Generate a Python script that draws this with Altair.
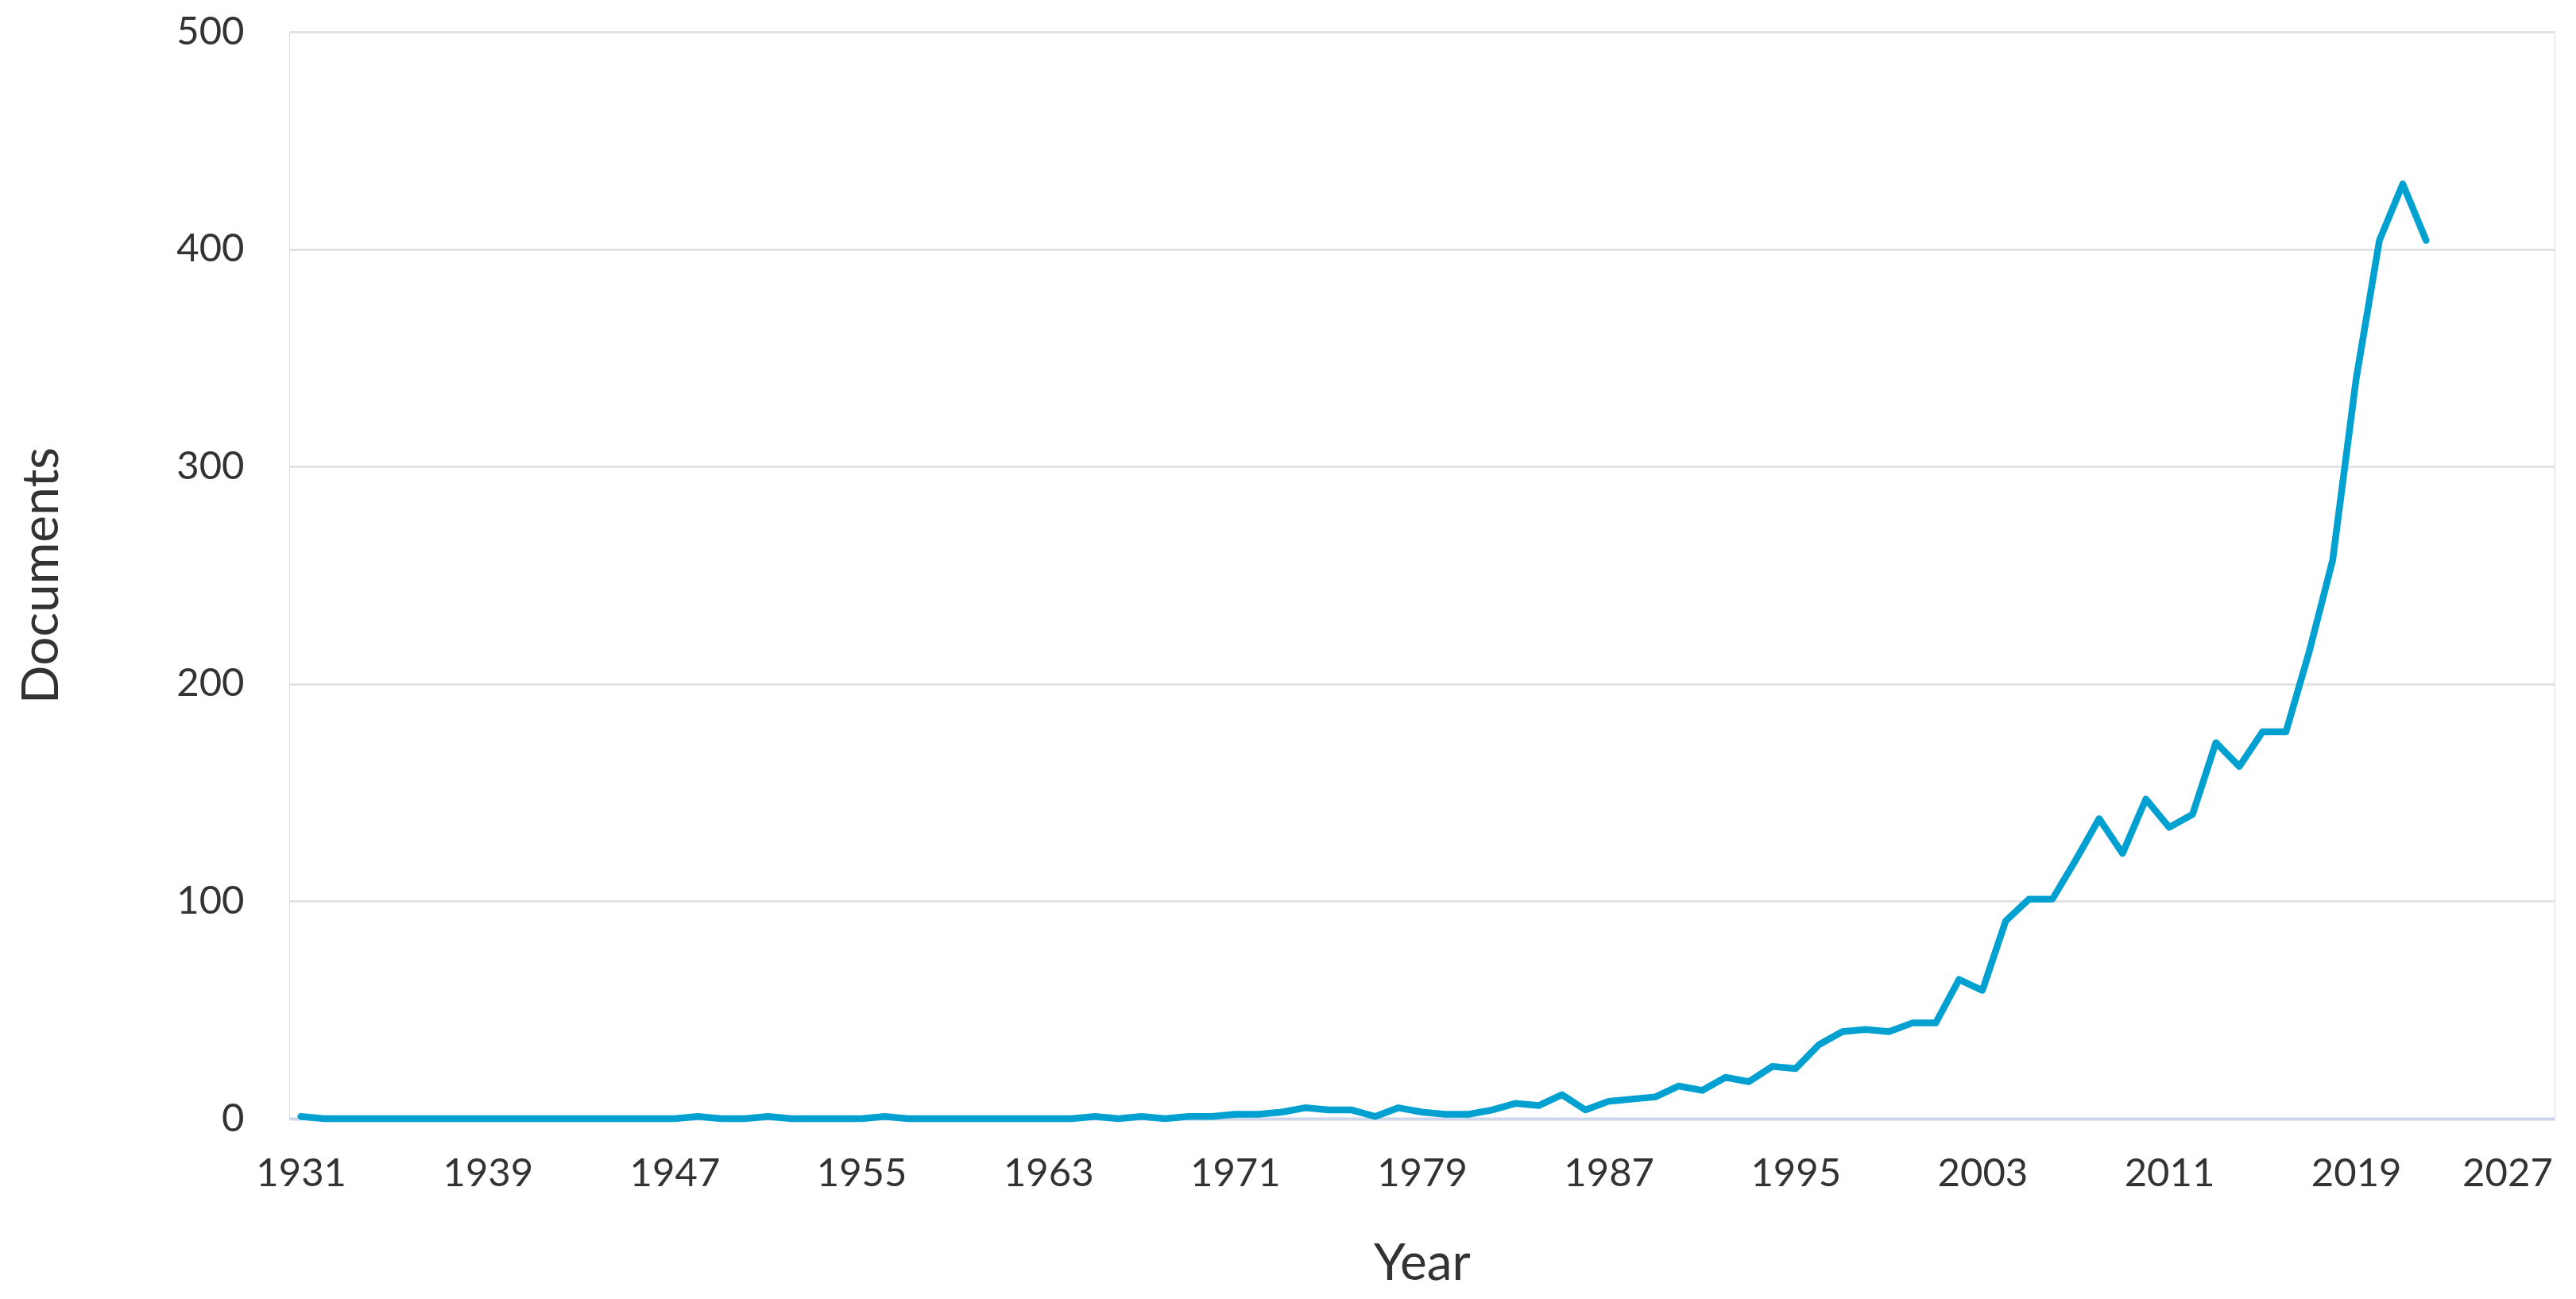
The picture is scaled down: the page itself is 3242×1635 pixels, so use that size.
import altair as alt
import pandas as pd

years = list(range(1931, 2023))
documents = [
    1, 0, 0, 0, 0, 0, 0, 0, 0, 0,          # 1931-1940
    0, 0, 0, 0, 0, 0, 0, 1, 0, 0,          # 1941-1950
    1, 0, 0, 0, 0, 1, 0, 0, 0, 0,          # 1951-1960
    0, 0, 0, 0, 1, 0, 1, 0, 1, 1,          # 1961-1970
    2, 2, 3, 5, 4, 4, 1, 5, 3, 2,          # 1971-1980
    2, 4, 7, 6, 11, 4, 8, 9, 10, 15,       # 1981-1990
    13, 19, 17, 24, 23, 34, 40, 41, 40, 44,  # 1991-2000
    44, 64, 59, 91, 101, 101, 119, 138, 122, 147,  # 2001-2010
    134, 140, 173, 162, 178, 178, 215, 257, 340, 404,  # 2011-2020
    430, 404,                              # 2021-2022
]
x_ticks = [1931, 1939, 1947, 1955, 1963, 1971, 1979, 1987, 1995, 2003, 2011, 2019, 2027]
y_ticks = [0, 100, 200, 300, 400, 500]

df = pd.DataFrame({"Year": years, "Documents": documents})

FONT = "Lato"
W, H = 2851, 1368

chart = (
    alt.Chart(df)
    .mark_line(color="#00a0d0", strokeWidth=8.5, strokeJoin="round", strokeCap="round")
    .encode(
        x=alt.X(
            "Year:Q",
            scale=alt.Scale(domain=[1930.5, 2027.5], nice=False, zero=False),
            axis=alt.Axis(
                values=x_ticks,
                format="d",
                title="Year",
                grid=False,
                ticks=False,
                domain=True,
                domainColor="#ccd6eb",
                domainWidth=4,
                labelFont=FONT,
                labelFontSize=49,
                labelColor="#333333",
                labelPadding=45,
                labelAlign={"condition": {"test": "datum.value == 2027", "value": "right"}, "value": "center"},
                labelOffset={"condition": {"test": "datum.value == 2027", "value": 12}, "value": 0},
                labelOverlap=False,
                titleFont=FONT,
                titleFontSize=64,
                titleFontWeight="normal",
                titleColor="#333333",
                titleBaseline="alphabetic",
                titleX=W / 2,
                titleY=202,
            ),
        ),
        y=alt.Y(
            "Documents:Q",
            scale=alt.Scale(domain=[0, 500], nice=False),
            axis=alt.Axis(
                values=y_ticks,
                title="Documents",
                grid=True,
                gridColor="#e3e3e3",
                gridWidth=3,
                ticks=False,
                domain=False,
                labelFont=FONT,
                labelFontSize=49,
                labelColor="#333333",
                labelPadding=57,
                titleFont=FONT,
                titleFontSize=64,
                titleFontWeight="normal",
                titleColor="#333333",
                titleAngle=270,
                titleAlign="center",
                titleBaseline="alphabetic",
                titleX=-292,
                titleY=H / 2,
            ),
        ),
    )
    .properties(
        width=W,
        height=H,
        autosize=alt.AutoSizeParams(type="none"),
        padding={"left": 356, "top": 32, "right": 19, "bottom": 219},
    )
    .configure_view(stroke=None)
    .configure(background="white")
)

chart.save("out.html", embed_options={"renderer": "svg", "actions": False})
